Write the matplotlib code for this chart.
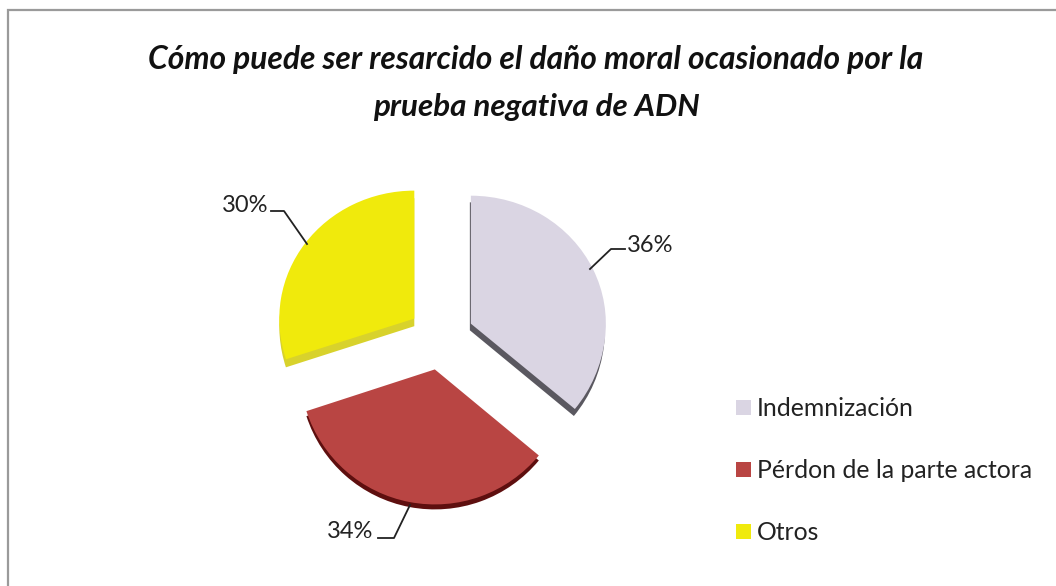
import matplotlib
matplotlib.use('Agg')
import matplotlib.pyplot as plt
import numpy as np
from matplotlib.patches import Rectangle

categories = ['Indemnización', 'Pérdon de la parte actora', 'Otros']
values = [36, 34, 30]
top_colors = ['#DAD5E3', '#B94543', '#F0EA0C']
side_colors = ['#5A5860', '#5E0F0F', '#D8D22C']

W, H = 1056, 586
plt.rcParams['font.family'] = ['Lato', 'DejaVu Sans']

fig = plt.figure(figsize=(W / 100, H / 100), dpi=100)

# pie gets its own axes, the far half is squeezed a bit for the 3d look
ax_pie = fig.add_axes([0, 0, 1, 1])
cx, cy = 441, H - 337
squeeze = 0.948

def tilt(y):
    y = np.asarray(y, dtype=float)
    return np.where(y <= cy, y, cy + (y - cy) * squeeze)

def untilt(y):
    y = np.asarray(y, dtype=float)
    return np.where(y <= cy, y, cy + (y - cy) / squeeze)

explode = [33] * 3  # pie offsets are in data units here, i.e. pixels
wall_shift = [(-1, -7), (0, -5), (0, -8)]

# side walls first, then the top faces
walls, _ = ax_pie.pie(values, colors=side_colors, startangle=90, counterclock=False,
                      explode=explode, radius=135, center=(cx, cy))
for w, (dx, dy) in zip(walls, wall_shift):
    w.set_center((w.center[0] + dx, w.center[1] + dy))
ax_pie.pie(values, colors=top_colors, startangle=90, counterclock=False,
           explode=explode, radius=135, center=(cx, cy))

ax_pie.set_aspect('auto')
ax_pie.set_yscale('function', functions=(tilt, untilt))
ax_pie.set_xlim(0, W)
ax_pie.set_ylim(0, float(untilt(H)))
ax_pie.axis('off')

# everything else in plain pixel coordinates
ax = fig.add_axes([0, 0, 1, 1])
ax.patch.set_alpha(0)
ax.set_xlim(0, W)
ax.set_ylim(0, H)
ax.axis('off')

# chart frame
ax.add_patch(Rectangle((8, -5), W + 5, H - 5, fill=False, ec='#9A9A9A', lw=1.6))

ax.text(536, H - 60, 'Cómo puede ser resarcido el daño moral ocasionado por la',
        ha='center', va='center', fontsize=22.9, fontweight='bold', style='italic', color='#111111')
ax.text(536, H - 107, 'prueba negativa de ADN',
        ha='center', va='center', fontsize=22.6, fontweight='bold', style='italic', color='#111111')

# data labels with leader lines
ax.text(650, H - 246, f'{values[0]}%', ha='center', va='center', fontsize=17, color='#222222')
ax.plot([590, 611, 625], [H - 269, H - 249, H - 249], color='#222222', lw=1.3)
ax.text(350, H - 532, f'{values[1]}%', ha='center', va='center', fontsize=17, color='#222222')
ax.plot([410, 394, 378], [H - 505, H - 538, H - 538], color='#222222', lw=1.3)
ax.text(245, H - 206, f'{values[2]}%', ha='center', va='center', fontsize=17, color='#222222')
ax.plot([307, 284, 271], [H - 244, H - 211, H - 211], color='#222222', lw=1.3)

# legend
for name, col, ly in zip(categories, top_colors, [407, 469, 531]):
    ax.add_patch(Rectangle((736, H - ly - 7.5), 15, 15, fc=col, ec='none'))
    ax.text(757, H - ly - 1, name, ha='left', va='center', fontsize=17.8, color='#222222')

fig.savefig('out.png', dpi=100)
